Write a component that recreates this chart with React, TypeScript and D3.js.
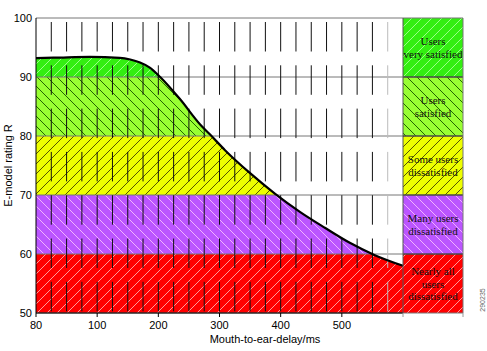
import React from "react";
import * as d3 from "d3";

// x positions in "ms-axis units" (axis runs 0..600, first tick labelled 80)
const delayMs = [0, 39, 88, 137, 154, 170, 186, 203, 235, 268, 285, 309, 350, 391, 432, 473, 513, 554, 600];
const rating = [93.2, 93.3, 93.4, 93.25, 92.97, 92.46, 91.6, 90.0, 86.3, 82.0, 80.2, 77.6, 73.7, 70.2, 67.1, 64.4, 61.9, 59.8, 58.0];

const xTickValues = [0, 100, 200, 300, 400, 500];
const xTickLabels = ["80", "100", "200", "300", "400", "500"];
const yTickValues = [50, 60, 70, 80, 90, 100];
const gridMs = d3.range(25, 600, 25);

const bandLow = [90, 80, 70, 60, 50];
const bandHigh = [100, 90, 80, 70, 60];
const bandFill = ["#33ee11", "#99ff33", "#eeff00", "#bb55ff", "#ff0000"];
const bandHatch = ["#99ff88", "#226600", "#555500", "#f0b0ff", "#ff9a9a"];
const bandDir = ["/", "\\", "/", "\\", "/"];
const bandLabels = [
  ["Users", "very satisfied"],
  ["Users", "satisfied"],
  ["Some users", "dissatisfied"],
  ["Many users", "dissatisfied"],
  ["Nearly all", "users", "dissatisfied"],
];

const W = 487;
const H = 351;
const left = 36;
const right = 403;
const panelRight = 463;
const top = 18;
const bottom = 313;

export default function App() {
  const x = d3.scaleLinear().domain([0, 600]).range([left, right]);
  const y = d3.scaleLinear().domain([50, 100]).range([bottom, top]);
  const pts: [number, number][] = delayMs.map((d, i) => [d, rating[i]]);
  const line = d3.line<[number, number]>().x((d) => x(d[0])).y((d) => y(d[1])).curve(d3.curveMonotoneX);
  const area = d3
    .area<[number, number]>()
    .x((d) => x(d[0]))
    .y0(y(50))
    .y1((d) => y(d[1]))
    .curve(d3.curveMonotoneX);
  const sans = "Liberation Sans, Arial, sans-serif";
  const serif = "Liberation Serif, Times New Roman, serif";
  const hatchSize = 10;

  const bandRects = (x0: number, x1: number, key: string) =>
    bandLow.map((lo, i) => (
      <g key={key + i}>
        <rect x={x0} y={y(bandHigh[i])} width={x1 - x0} height={y(lo) - y(bandHigh[i])} fill={bandFill[i]} />
        <rect x={x0} y={y(bandHigh[i])} width={x1 - x0} height={y(lo) - y(bandHigh[i])} fill={`url(#hatch${i})`} />
      </g>
    ));

  return (
    <svg width={W} height={H} style={{ position: "absolute", left: 0, top: 0, background: "#fff" }}>
      <defs>
        {bandFill.map((c, i) => (
          <pattern key={i} id={`hatch${i}`} width={hatchSize} height={hatchSize} patternUnits="userSpaceOnUse">
            {bandDir[i] === "/" ? (
              <g stroke={bandHatch[i]} strokeWidth={1}>
                <line x1={0} y1={hatchSize} x2={hatchSize} y2={0} />
                <line x1={-2} y1={2} x2={2} y2={-2} />
                <line x1={hatchSize - 2} y1={hatchSize + 2} x2={hatchSize + 2} y2={hatchSize - 2} />
              </g>
            ) : (
              <g stroke={bandHatch[i]} strokeWidth={1}>
                <line x1={0} y1={0} x2={hatchSize} y2={hatchSize} />
                <line x1={-2} y1={hatchSize - 2} x2={2} y2={hatchSize + 2} />
                <line x1={hatchSize - 2} y1={-2} x2={hatchSize + 2} y2={2} />
              </g>
            )}
          </pattern>
        ))}
        <clipPath id="under">
          <path d={area(pts) || ""} />
        </clipPath>
      </defs>

      {/* filled area under curve */}
      <g clipPath="url(#under)">{bandRects(left, right, "a")}</g>

      {/* right legend panel */}
      {bandRects(right, panelRight, "p")}

      {/* horizontal grid lines */}
      {yTickValues.map((v) => (
        <line key={v} x1={left} x2={panelRight} y1={y(v)} y2={y(v)} stroke="#777" strokeWidth={1} />
      ))}
      {/* band borders in panel */}
      {yTickValues.slice(1, 5).map((v) => (
        <line key={"b" + v} x1={right} x2={panelRight} y1={y(v)} y2={y(v)} stroke="#333" strokeWidth={1} />
      ))}

      {/* vertical dashed grid lines */}
      {gridMs.map((m) => (
        <line
          key={m}
          x1={x(m)}
          x2={x(m)}
          y1={22}
          y2={bottom}
          stroke={m === 575 ? "#bbb" : "#111"}
          strokeWidth={1}
          strokeDasharray="29.5 13.8"
        />
      ))}

      {/* curve */}
      <path d={line(pts) || ""} fill="none" stroke="#000" strokeWidth={2.2} />

      {/* axes */}
      <line x1={left} x2={left} y1={top} y2={bottom} stroke="#000" strokeWidth={1} />
      <line x1={left} x2={right} y1={bottom} y2={bottom} stroke="#000" strokeWidth={1} />
      <line x1={right} x2={right} y1={top} y2={bottom} stroke="#555" strokeWidth={1} />
      <line x1={panelRight} x2={panelRight} y1={top} y2={bottom} stroke="#777" strokeWidth={1} />
      {[right, panelRight].map((px) => (
        <line key={px} x1={px} x2={px} y1={bottom} y2={bottom + 4} stroke="#999" />
      ))}
      {xTickValues.map((v, i) => (
        <g key={v}>
          <line x1={x(v)} x2={x(v)} y1={bottom} y2={bottom + 4} stroke="#000" />
          <text x={x(v)} y={bottom + 16} textAnchor="middle" fontFamily={sans} fontSize={11} fill="#000">
            {xTickLabels[i]}
          </text>
        </g>
      ))}
      {yTickValues.map((v) => (
        <text key={v} x={left - 4} y={y(v) + 4} textAnchor="end" fontFamily={sans} fontSize={11} fill="#000">
          {v}
        </text>
      ))}
      <text x={265} y={343} textAnchor="middle" fontFamily={sans} fontSize={11} fill="#000">
        Mouth-to-ear-delay/ms
      </text>
      <text
        transform={`translate(12,${(top + bottom) / 2}) rotate(-90)`}
        textAnchor="middle"
        fontFamily={sans}
        fontSize={11}
        fill="#000"
      >
        E-model rating R
      </text>

      {/* panel labels */}
      {bandLabels.map((lines, i) => {
        const cy = (y(bandLow[i]) + y(bandHigh[i])) / 2;
        const lh = 12.5;
        const start = cy - ((lines.length - 1) * lh) / 2 + 4;
        return (
          <text key={i} textAnchor="middle" fontFamily={serif} fontSize={11} fill="#111">
            {lines.map((t, j) => (
              <tspan key={j} x={(right + panelRight) / 2} y={start + j * lh}>
                {t}
              </tspan>
            ))}
          </text>
        );
      })}

      <text
        transform="translate(485,300) rotate(-90)"
        textAnchor="middle"
        fontFamily={sans}
        fontSize={7}
        fill="#666"
      >
        290235
      </text>
    </svg>
  );
}
